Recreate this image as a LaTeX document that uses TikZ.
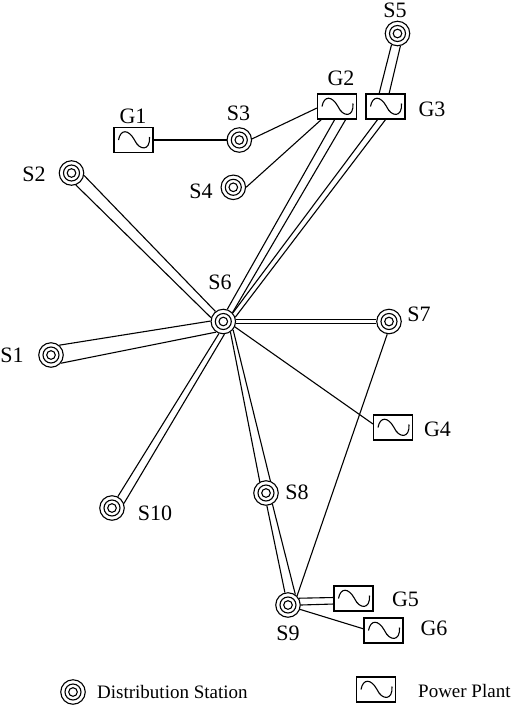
\documentclass[tikz,border=0pt]{standalone}
\usepackage{fontspec}
\setmainfont{Liberation Serif}
\tikzset{
  station/.style={circle,draw,line width=1.1pt,fill=white,minimum size=24.5pt,inner sep=0pt,
    path picture={\draw[line width=1.1pt] (path picture bounding box.center) circle (8) circle (4.3);}},
  plant/.style={draw,line width=1.1pt,fill=white,minimum width=39pt,minimum height=25pt,inner sep=0pt,
    path picture={\draw[line width=1.1pt] ([shift={(-15,0)}]path picture bounding box.center)
      .. controls +(2,-11) and +(-6,-11) .. ([shift={(1,0)}]path picture bounding box.center)
      .. controls +(5,11) and +(1,14) .. ([shift={(16,-3)}]path picture bounding box.center);}},
  single/.style={line width=1.1pt},
  lab/.style={font=\fontsize{22}{22}\selectfont,inner sep=0pt},
  leg/.style={font=\fontsize{19}{19}\selectfont,inner sep=0pt,anchor=west}
}
\begin{document}
\begin{tikzpicture}[x=1pt,y=-1pt]
\useasboundingbox (0,0) rectangle (512,705);
\fill[white] (0,0) rectangle (512,705);
% junction points on the plant boxes
\coordinate (g2l) at (335,119);
\coordinate (g2r) at (346,119);
\coordinate (g2b) at (322,119);
\coordinate (g2c) at (317,108);
\coordinate (g3l) at (378,119);
\coordinate (g3r) at (386,119);
\coordinate (g3u) at (379,94);
\coordinate (g3v) at (389,94);
\coordinate (g4a) at (373,424);
\coordinate (g5u) at (334,597.5);
\coordinate (g5v) at (334,604);
\coordinate (g6a) at (364,629);
% stations
\node[station] (S1) at (51,355) {};
\node[station] (S2) at (71.5,173) {};
\node[station] (S3) at (239.3,140) {};
\node[station] (S4) at (233.3,187.3) {};
\node[station] (S5) at (397.5,33.5) {};
\node[station] (S6) at (223.3,321.5) {};
\node[station] (S7) at (389,321.5) {};
\node[station] (S8) at (266,493) {};
\node[station] (S9) at (288,605) {};
\node[station] (S10) at (112,508) {};
% plants
\node[plant] (G1) at (133.5,140) {};
\node[plant] (G2) at (337,106.5) {};
\node[plant] (G3) at (385.5,106.5) {};
\node[plant] (G4) at (393,427.5) {};
\node[plant] (G5) at (353.5,598.5) {};
\node[plant] (G6) at (383.5,630.5) {};
% connectors
\draw[single] (G1.east) -- (S3.west);
\draw[single] (S3.5) -- (g2c);
\draw[single] (S4.0) -- (g2b);
\draw[single] (S5.242) -- (g3u);
\draw[single] (S5.283) -- (g3v);
\draw[single] (g2l) -- (S6.72);
\draw[single] (g2r) -- (S6.44);
\draw[single] (g3l) -- (S6.42);
\draw[single] (g3r) -- (S6.20);
\draw[single] (S2.-11) -- (S6.128);
\draw[single] (S2.-70) -- (S6.163);
\draw[single] (S1.50) -- (S6.178);
\draw[single] (S1.-40) -- (S6.236);
\draw[single] ([yshift=-2.2pt]S6.east) -- ([yshift=-2.2pt]S7.west);
\draw[single] ([yshift=2.2pt]S6.east) -- ([yshift=2.2pt]S7.west);
\draw[single] (S6.-25) -- (g4a);
\draw[single] (S6.-56) -- (S8.119);
\draw[single] (S6.-40) -- (S8.70);
\draw[single] (S6.250) -- (S10.63);
\draw[single] (S6.275) -- (S10.21);
\draw[single] (S8.-86) -- (S9.104);
\draw[single] (S8.-60) -- (S9.55);
\draw[single] (S7.262) -- (S9.45);
\draw[single] (S9.32) -- (g5u);
\draw[single] (S9.0) -- (g5v);
\draw[single] (S9.-20) -- (g6a);
% labels
\node[lab] (tG1) at (133,116) {G1};
\node[lab] (tG2) at (341,78) {G2};
\node[lab] (tG3) at (432,109) {G3};
\node[lab] (tG4) at (437.5,429) {G4};
\node[lab] (tG5) at (405.5,599) {G5};
\node[lab] (tG6) at (434,628) {G6};
\node[lab] (tS1) at (12,355) {S1};
\node[lab] (tS2) at (34,174) {S2};
\node[lab] (tS3) at (238.5,113) {S3};
\node[lab] (tS4) at (201,191) {S4};
\node[lab] (tS5) at (395,10) {S5};
\node[lab] (tS6) at (220,282) {S6};
\node[lab] (tS7) at (419,314) {S7};
\node[lab] (tS8) at (297,492) {S8};
\node[lab] (tS9) at (288,633) {S9};
\node[lab] (tS10) at (155,513) {S10};
% legend
\node[station] (L1) at (73,692) {};
\node[leg] (L1t) at (97,692) {Distribution Station};
\node[plant] (L2) at (376,689.5) {};
\node[leg] (L2t) at (418,691) {Power Plant};
\end{tikzpicture}
\end{document}
